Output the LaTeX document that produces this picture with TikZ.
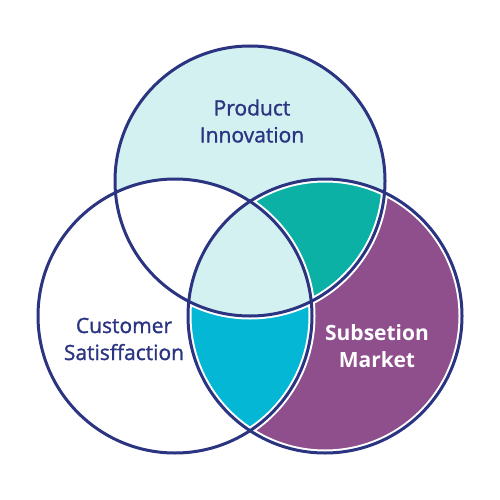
\documentclass[tikz,border=0pt]{standalone}
\usepackage{fontspec}
\setmainfont{Open Sans}
\newfontfamily\medfont[FakeBold=1.3]{Open Sans}
\definecolor{navy}{RGB}{43,52,128}
\definecolor{lightcyan}{RGB}{212,241,242}
\definecolor{tealc}{RGB}{12,177,166}
\definecolor{bluec}{RGB}{4,183,213}
\definecolor{purplec}{RGB}{142,79,140}
\begin{document}
\begin{tikzpicture}[x=1pt,y=-1pt,
  outline/.style={draw=navy,line width=3pt},
  gap/.style={draw=white,line width=7pt},
  navylabel/.style={text=navy,align=center,font=\medfont\fontsize{21}{27}\selectfont},
  whitelabel/.style={text=white,align=center,font=\fontsize{21}{27}\selectfont\bfseries}]
\useasboundingbox (0,0) rectangle (500,500);
\fill[white] (0,0) rectangle (500,500);
\coordinate (ct) at (250,181);
\coordinate (cl) at (175,316);
\coordinate (cr) at (325,316);
\def\rt{135pt}
\def\rb{137pt}
% top circle
\fill[lightcyan] (ct) circle[radius=\rt];
% top-left intersection white
\begin{scope}
  \clip (cl) circle[radius=\rb];
  \fill[white] (ct) circle[radius=\rt];
\end{scope}
% right circle purple
\begin{scope}
  \clip (cr) circle[radius=\rb];
  \fill[purplec] (cr) circle[radius=\rb];
  \path[gap] (cr) circle[radius=\rb] (ct) circle[radius=\rt] (cl) circle[radius=\rb];
  % teal: top and right
  \begin{scope}
    \clip (ct) circle[radius=\rt];
    \fill[tealc] (ct) circle[radius=\rt];
    \path[gap] (cr) circle[radius=\rb] (ct) circle[radius=\rt] (cl) circle[radius=\rb];
  \end{scope}
  % blue: left and right
  \begin{scope}
    \clip (cl) circle[radius=\rb];
    \fill[bluec] (cl) circle[radius=\rb];
    \path[gap] (cr) circle[radius=\rb] (ct) circle[radius=\rt] (cl) circle[radius=\rb];
    % centre
    \clip (ct) circle[radius=\rt];
    \fill[lightcyan] (ct) circle[radius=\rt];
  \end{scope}
\end{scope}
% outlines
\path[outline] (ct) circle[radius=\rt];
\path[outline] (cl) circle[radius=\rb];
\path[outline] (cr) circle[radius=\rb];
% labels
\node[navylabel] (pi) at (252,121) {Product\\Innovation};
\node[navylabel] (cs) at (124,339) {Customer\\Satisffaction};
\node[whitelabel] (sm) at (377,346) {Subsetion\\Market};
\end{tikzpicture}
\end{document}
